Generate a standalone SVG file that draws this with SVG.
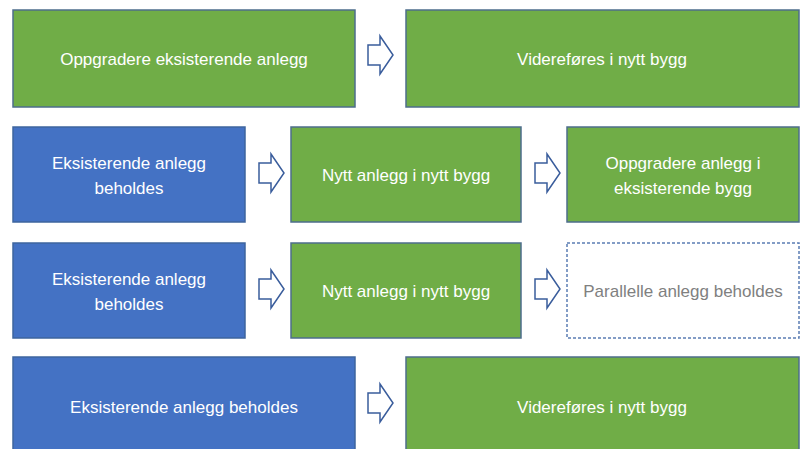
<svg xmlns="http://www.w3.org/2000/svg" width="803" height="449" viewBox="0 0 803 449">
<defs>
<style>
.g{fill:#70AD47;stroke:#4D6E8C;stroke-width:1.5}
.b{fill:#4472C4;stroke:#3E659E;stroke-width:1.5}
.d{fill:#fff;stroke:#5B7DB4;stroke-width:1.5;stroke-dasharray:3 2}
.t{font-family:"Liberation Sans",Arial,sans-serif;font-size:17px;fill:#fff;text-anchor:middle}
.tg{font-family:"Liberation Sans",Arial,sans-serif;font-size:17px;fill:#808080;text-anchor:middle}
.a{fill:#fff;stroke:#3A5D9C;stroke-width:1.5;stroke-linejoin:miter}
</style>
<path id="arr" d="M0,-10 H12 V-19 L25,0 L12,19 V10 H0 Z"/>
</defs>
<rect width="803" height="449" fill="#fff"/>
<g id="n1"><rect class="g" x="13" y="10" width="342" height="97"/><text class="t" x="184" y="65">Oppgradere eksisterende anlegg</text></g>
<g id="n2"><rect class="g" x="406" y="10" width="393" height="97"/><text class="t" x="602" y="65">Videreføres i nytt bygg</text></g>
<g id="n3"><rect class="b" x="13" y="127" width="232" height="95"/><text class="t" x="129" y="169">Eksisterende anlegg</text><text class="t" x="129" y="194">beholdes</text></g>
<g id="n4"><rect class="g" x="291" y="127" width="230" height="95"/><text class="t" x="406" y="181">Nytt anlegg i nytt bygg</text></g>
<g id="n5"><rect class="g" x="567" y="127" width="232" height="95"/><text class="t" x="683" y="169">Oppgradere anlegg i</text><text class="t" x="683" y="194">eksisterende bygg</text></g>
<g id="n6"><rect class="b" x="13" y="243" width="232" height="95"/><text class="t" x="129" y="285">Eksisterende anlegg</text><text class="t" x="129" y="310">beholdes</text></g>
<g id="n7"><rect class="g" x="291" y="243" width="230" height="95"/><text class="t" x="406" y="297">Nytt anlegg i nytt bygg</text></g>
<g id="n8"><rect class="d" x="567" y="243" width="232" height="95"/><text class="tg" x="683" y="297">Parallelle anlegg beholdes</text></g>
<g id="n9"><rect class="b" x="13" y="357" width="342" height="100"/><text class="t" x="184" y="413">Eksisterende anlegg beholdes</text></g>
<g id="n10"><rect class="g" x="406" y="357" width="393" height="100"/><text class="t" x="602" y="413">Videreføres i nytt bygg</text></g>
<g id="connectors">
<use href="#arr" class="a" x="368" y="55"/>
<use href="#arr" class="a" x="259" y="173"/>
<use href="#arr" class="a" x="535" y="173"/>
<use href="#arr" class="a" x="259" y="289"/>
<use href="#arr" class="a" x="535" y="289"/>
<use href="#arr" class="a" x="368" y="403"/>
</g>
</svg>
